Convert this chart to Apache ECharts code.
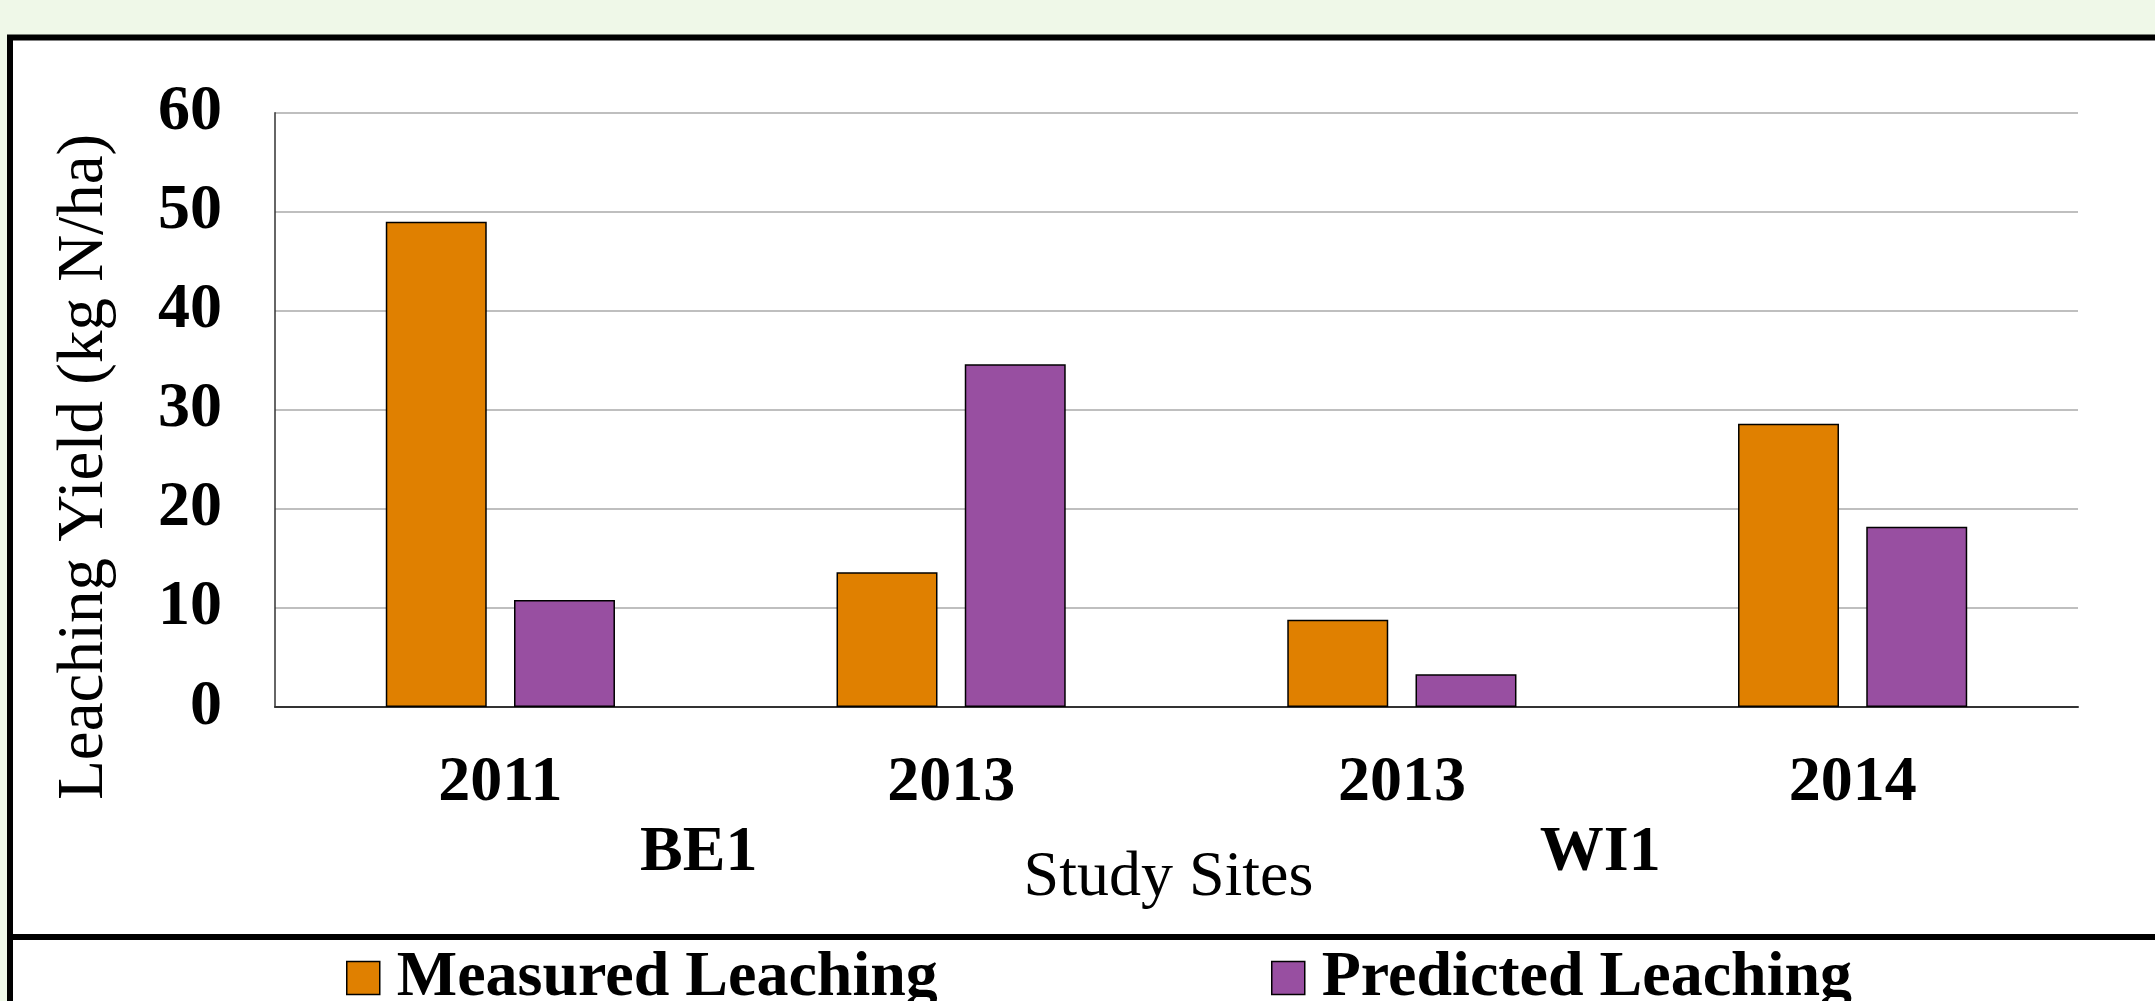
<!DOCTYPE html>
<html>
<head>
<meta charset="utf-8">
<script src="https://cdn.jsdelivr.net/npm/echarts@6/dist/echarts.min.js"></script>
<style>
  html, body { margin:0; padding:0; background:#EFF8E8; }
  #chart { width:2155px; height:1001px; }
</style>
</head>
<body>
<div id="chart"></div>
<script>
// ---- data ----
const yearLabels = ['2011', '2013', '2013', '2014'];
const siteLabels = ['BE1', 'WI1'];
const seriesNames = ['Measured Leaching', 'Predicted Leaching'];
const measured = [49.0, 13.6, 8.8, 28.6];
const predicted = [10.8, 34.6, 3.3, 18.2];
const yTicks = { min: 0, max: 60, interval: 10 };

const FONT = '"Liberation Serif", "Times New Roman", serif';
const FS = 64;

const chart = echarts.init(document.getElementById('chart'), null, { renderer: 'canvas' });

const legendText = { fontFamily: FONT, fontSize: FS, fontWeight: 'bold', color: '#000', padding: [0, 0, 0, 12] };

const option = {
  backgroundColor: '#EFF8E8',
  animation: false,
  graphic: [
    { type: 'rect', z: -10, shape: { x: 10, y: 37.5, width: 2300, height: 1100 },
      style: { fill: '#ffffff', stroke: '#000000', lineWidth: 6 } },
    { type: 'line', z: -9, shape: { x1: 10, y1: 937, x2: 2200, y2: 937 },
      style: { stroke: '#000000', lineWidth: 6 } }
  ],
  grid: { left: 275, right: 77, top: 112.7, bottom: 294 },
  legend: [
    { data: [seriesNames[0]], left: 346, top: 946, padding: 0, itemWidth: 33, itemHeight: 33, icon: 'rect',
      itemStyle: { borderColor: '#000', borderWidth: 1.5 }, textStyle: legendText },
    { data: [seriesNames[1]], left: 1271, top: 946, padding: 0, itemWidth: 33, itemHeight: 33, icon: 'rect',
      itemStyle: { borderColor: '#000', borderWidth: 1.5 }, textStyle: legendText }
  ],
  xAxis: [
    {
      type: 'category', data: yearLabels, position: 'bottom',
      axisLine: { show: true, lineStyle: { color: '#333', width: 2 } },
      axisTick: { show: false },
      axisLabel: { fontFamily: FONT, fontSize: FS, fontWeight: 'bold', color: '#000', margin: 44 },
      name: 'Study Sites', nameLocation: 'middle', nameGap: 139,
      nameTextStyle: { fontFamily: FONT, fontSize: 64, color: '#000', padding: [0, 16, 0, 0] }
    },
    {
      type: 'category', data: siteLabels, position: 'bottom', gridIndex: 0,
      axisLine: { show: false }, axisTick: { show: false }, splitLine: { show: false },
      axisLabel: { fontFamily: FONT, fontSize: FS, fontWeight: 'bold', color: '#000', margin: 114,
        padding: [0, 54, 0, 0] }
    }
  ],
  yAxis: {
    type: 'value', min: yTicks.min, max: yTicks.max, interval: yTicks.interval,
    axisLine: { show: true, lineStyle: { color: '#333', width: 1.5 } },
    axisTick: { show: false },
    splitLine: { lineStyle: { color: '#AAAAAA', width: 1.5 } },
    axisLabel: { fontFamily: FONT, fontSize: FS, fontWeight: 'bold', color: '#000', margin: 53 },
    name: 'Leaching Yield (kg N/ha)', nameLocation: 'middle', nameGap: 158, nameRotate: 90,
    nameTextStyle: { fontFamily: FONT, fontSize: 65, color: '#000', padding: [0, 114, 0, 0] }
  },
  series: [
    { name: seriesNames[0], type: 'bar', data: measured, barWidth: '22.4%', barGap: '27%',
      itemStyle: { color: '#E08000', borderColor: '#000', borderWidth: 1.5 } },
    { name: seriesNames[1], type: 'bar', data: predicted, barWidth: '22.4%', barGap: '27%',
      itemStyle: { color: '#984FA1', borderColor: '#000', borderWidth: 1.5 } }
  ]
};
chart.setOption(option);
</script>
</body>
</html>
